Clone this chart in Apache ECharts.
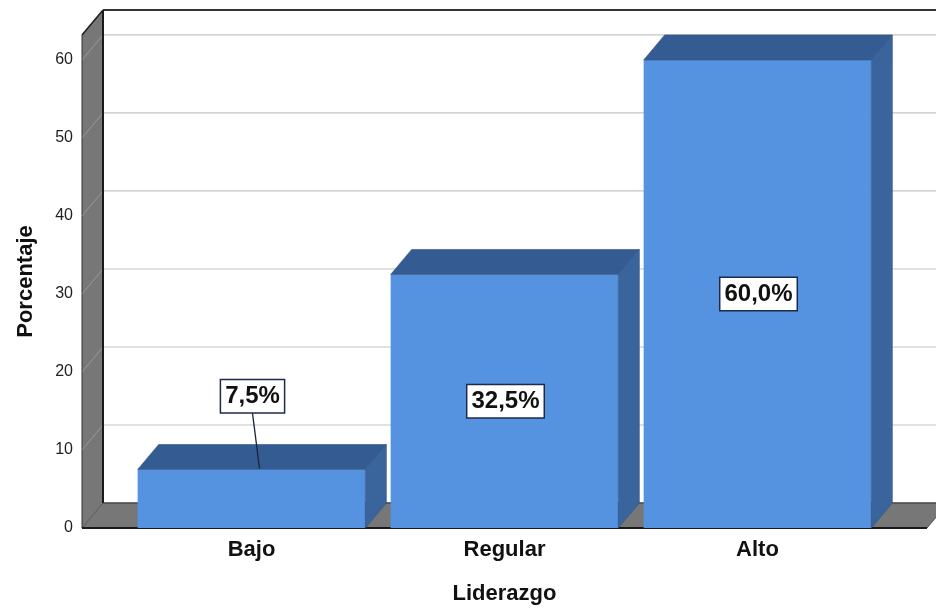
<!DOCTYPE html>
<html><head><meta charset="utf-8">
<script src="https://cdn.jsdelivr.net/npm/echarts@6/dist/echarts.min.js"></script>
<style>html,body{margin:0;padding:0;background:#fff}#c{width:936px;height:612px}</style>
</head><body><div id="c"></div>
<script>
// ---- data ----
const categories = ['Bajo', 'Regular', 'Alto'];
const values = [7.5, 32.5, 60.0];
const valueLabels = ['7,5%', '32,5%', '60,0%'];
const yTicks = [0, 10, 20, 30, 40, 50, 60];
const yMax = 63.2;

// ---- style constants ----
const DX = 21, DY = -25;      // 3D depth offset (px)
const WALL_EXT = 43;          // floor extension beyond category band (px)
const BAR_RATIO = 0.9;
const FONT = '"Liberation Sans", Arial, sans-serif';

const chart = echarts.init(document.getElementById('c'), null, {renderer: 'canvas'});

function renderBackground(params, api) {
  const cs = params.coordSys;
  const y0 = api.coord([0, 0])[1];
  const yT = api.coord([0, yMax])[1];
  const fl = cs.x - WALL_EXT;
  const fr = cs.x + cs.width + WALL_EXT;
  const W = api.getWidth();
  const ch = [];
  // back wall
  ch.push({type: 'rect', shape: {x: fl + DX, y: yT + DY, width: W - fl - DX, height: y0 - yT}, style: {fill: '#ffffff'}});
  // back wall grid lines
  yTicks.forEach(t => {
    const y = api.coord([0, t])[1] + DY;
    ch.push({type: 'line', shape: {x1: fl + DX, y1: y, x2: W, y2: y}, style: {stroke: '#c4c4c4', lineWidth: 1.2}});
  });
  // floor
  ch.push({type: 'polygon', shape: {points: [[fl, y0], [fl + DX, y0 + DY], [fr + DX, y0 + DY], [fr, y0]]},
    style: {fill: '#777777', stroke: '#555', lineWidth: 1}});
  // left wall
  ch.push({type: 'polygon', shape: {points: [[fl, y0], [fl, yT], [fl + DX, yT + DY], [fl + DX, y0 + DY]]},
    style: {fill: '#777777', stroke: '#333', lineWidth: 1}});
  // faint tick lines on left wall
  yTicks.forEach(t => {
    const y = api.coord([0, t])[1];
    ch.push({type: 'line', shape: {x1: fl, y1: y, x2: fl + DX, y2: y + DY}, style: {stroke: 'rgba(255,255,255,0.25)', lineWidth: 1}});
  });
  // dark edges
  ch.push({type: 'line', shape: {x1: fl + DX, y1: yT + DY, x2: fl + DX, y2: y0 + DY}, style: {stroke: '#1a1a1a', lineWidth: 2}});
  ch.push({type: 'line', shape: {x1: fl + DX, y1: y0 + DY, x2: fr + DX, y2: y0 + DY}, style: {stroke: '#444', lineWidth: 1}});
  ch.push({type: 'line', shape: {x1: fl + DX, y1: yT + DY, x2: W, y2: yT + DY}, style: {stroke: '#333', lineWidth: 2}});
  ch.push({type: 'line', shape: {x1: fl, y1: yT, x2: fl + DX, y2: yT + DY}, style: {stroke: '#222', lineWidth: 1.5}});
  ch.push({type: 'line', shape: {x1: fl, y1: y0, x2: fr, y2: y0}, style: {stroke: '#1a1a1a', lineWidth: 2}});
  return {type: 'group', children: ch};
}

function renderBar(params, api) {
  const i = api.value(0), v = api.value(1);
  const top = api.coord([i, v]);
  const base = api.coord([i, 0]);
  const w = api.size([1, 0])[0] * BAR_RATIO;
  const x0 = top[0] - w / 2, x1 = top[0] + w / 2;
  const ch = [];
  ch.push({type: 'rect', shape: {x: x0, y: top[1], width: w, height: base[1] - top[1]}, style: {fill: '#5592E0'}});
  ch.push({type: 'polygon', shape: {points: [[x0, top[1]], [x0 + DX, top[1] + DY], [x1 + DX, top[1] + DY], [x1, top[1]]]},
    style: {fill: '#355C92', stroke: '#2f5285', lineWidth: 0.6}});
  ch.push({type: 'polygon', shape: {points: [[x1, top[1]], [x1 + DX, top[1] + DY], [x1 + DX, base[1] + DY], [x1, base[1]]]},
    style: {fill: '#3A649C', stroke: '#2f5285', lineWidth: 0.6}});
  const small = v < 10;
  const lv = small ? v + 9.4 : v / 2;
  const lp = api.coord([i, lv]);
  if (small) {
    ch.push({type: 'line', shape: {x1: top[0] + 1, y1: lp[1] + 17, x2: top[0] + 8, y2: top[1] - 1},
      style: {stroke: '#1a2438', lineWidth: 1.3}});
  }
  ch.push({type: 'text', x: lp[0] + 1, y: lp[1],
    style: {text: valueLabels[params.dataIndex], align: 'center', verticalAlign: 'middle',
      font: 'bold 24px ' + FONT, fill: '#111',
      backgroundColor: '#ffffff', borderColor: '#1c2b48', borderWidth: 1.5, padding: [5, 4, 3, 4]}});
  return {type: 'group', children: ch};
}

chart.setOption({
  animation: false,
  backgroundColor: '#ffffff',
  grid: {left: 125, right: 52, top: 35, bottom: 84},
  xAxis: {
    type: 'category', data: categories,
    axisLine: {show: false}, axisTick: {show: false}, splitLine: {show: false},
    axisLabel: {margin: 11, fontSize: 22, fontWeight: 'bold', color: '#111', fontFamily: FONT},
    name: 'Liderazgo', nameLocation: 'middle', nameGap: 55,
    nameTextStyle: {fontSize: 22, fontWeight: 'bold', color: '#111', fontFamily: FONT}
  },
  yAxis: {
    type: 'value', min: 0, max: yMax, interval: 10,
    axisLine: {show: false}, axisTick: {show: false}, splitLine: {show: false},
    axisLabel: {margin: 52, fontSize: 16, color: '#222', fontFamily: FONT, showMaxLabel: false, verticalAlign: 'middle', lineHeight: 16, padding: [0, 0, 8, 0]},
    name: 'Porcentaje', nameLocation: 'middle', nameGap: 88,
    nameTextStyle: {fontSize: 22, fontWeight: 'bold', color: '#111', fontFamily: FONT}
  },
  series: [
    {type: 'custom', z: 1, renderItem: renderBackground, data: [[0, 0]], silent: true},
    {type: 'custom', z: 2, renderItem: renderBar, data: values.map((v, i) => [i, v])}
  ]
});
</script>
</body></html>
